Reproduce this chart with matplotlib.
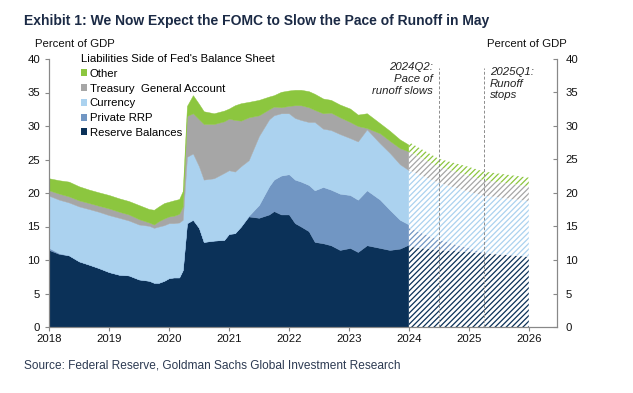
import numpy as np
import matplotlib.pyplot as plt
from matplotlib.patches import Patch

plt.rcParams['font.family'] = ['Liberation Sans', 'DejaVu Sans']
plt.rcParams['hatch.linewidth'] = 0.9

# history, % of GDP (layer thicknesses)
hist_t = [2018.00, 2018.17, 2018.33, 2018.50, 2018.67, 2018.83, 2019.00, 2019.17,
          2019.33, 2019.50, 2019.67, 2019.75, 2019.83, 2019.92, 2020.00, 2020.08,
          2020.17, 2020.23, 2020.30, 2020.40, 2020.50, 2020.58, 2020.75, 2020.92,
          2021.00, 2021.10, 2021.20, 2021.33, 2021.50, 2021.67, 2021.75, 2021.87,
          2022.00, 2022.10, 2022.20, 2022.33, 2022.43, 2022.57, 2022.70, 2022.85,
          2023.02, 2023.15, 2023.30, 2023.52, 2023.68, 2023.85, 2024.00]
reserves = [11.5, 10.9, 10.7, 9.8, 9.3, 8.8, 8.2, 7.8, 7.7, 7.1, 6.9, 6.6, 6.6, 6.9,
            7.3, 7.4, 7.4, 8.5, 15.5, 16.0, 14.8, 12.7, 12.9, 13.0, 13.9, 14.0, 15.0,
            16.5, 16.3, 16.8, 17.3, 16.8, 16.8, 15.5, 15.0, 14.3, 12.7, 12.5, 12.2,
            11.5, 11.8, 11.2, 12.2, 11.8, 11.5, 11.7, 12.3]
rrp = [0.3, 0.1, 0, 0, 0, 0, 0, 0, 0, 0, 0, 0, 0, 0, 0, 0, 0, 0, 0, 0, 0, 0, 0, 0,
       0, 0, 0, 0.1, 1.9, 4.2, 4.7, 5.8, 6.0, 6.5, 6.7, 6.9, 7.7, 8.4, 8.3, 8.4,
       7.9, 7.8, 8.2, 7.2, 6.0, 4.3, 3.0]
currency = [7.8, 8.0, 7.9, 8.2, 8.3, 8.4, 8.5, 8.5, 8.2, 8.2, 8.2, 8.2, 8.4, 8.3,
            8.2, 8.1, 8.2, 7.5, 9.9, 9.9, 9.2, 9.3, 9.3, 10.0, 9.5, 9.2, 9.0, 8.3,
            10.3, 10.0, 9.6, 9.3, 9.1, 9.2, 9.2, 9.4, 10.2, 8.7, 8.9, 8.9, 8.5, 8.7,
            9.1, 8.4, 8.5, 8.3, 8.1]
tga = [0.8, 0.9, 0.9, 0.9, 0.9, 0.9, 1.0, 0.9, 0.9, 0.8, 0.5, 0.5, 0.8, 1.0, 1.0,
       1.1, 1.3, 2.0, 6.1, 6.0, 7.0, 8.3, 8.1, 7.7, 7.7, 7.7, 6.8, 6.4, 3.1, 1.5,
       1.3, 0.9, 1.1, 1.9, 2.2, 2.2, 1.8, 2.3, 2.6, 2.5, 2.4, 2.3, 0.2, 1.5, 1.8,
       2.4, 2.8]
other = [1.8, 2.0, 2.2, 2.1, 2.0, 2.0, 2.0, 2.0, 2.0, 2.1, 2.0, 2.2, 2.2, 2.3, 2.2,
         2.3, 2.2, 2.3, 1.5, 2.7, 2.3, 1.9, 1.6, 1.6, 1.5, 2.2, 2.6, 2.3, 2.3, 1.9,
         1.7, 2.3, 2.3, 2.3, 2.3, 2.4, 2.4, 2.2, 1.9, 1.9, 2.0, 1.7, 2.2, 1.5, 1.5,
         1.3, 1.0]

# GS projection
fcst_t = [2024.00, 2024.50, 2025.00, 2025.25, 2026.00]
reserves_f = [12.0, 11.5, 11.2, 11.0, 10.5]
rrp_f = [2.8, 1.5, 0.6, 0.1, 0.0]
currency_f = [8.6, 8.5, 8.4, 8.5, 8.3]
tga_f = [2.8, 2.4, 2.4, 2.3, 2.2]
other_f = [1.4, 1.2, 1.3, 1.3, 1.3]

labels = ['Reserve Balances', 'Private RRP', 'Currency', 'Treasury  General Account', 'Other']
colors = ['#0b3158', '#7196c3', '#abd2ef', '#a6a6a6', '#8cc63f']

event_x = [2024.5, 2025.25]
event_txt = ['2024Q2:\nPace of\nrunoff slows', '2025Q1:\nRunoff\nstops']

fig = plt.figure(figsize=(6.33, 3.93), dpi=100)
ax = fig.add_axes([49/633, 66/393, 508/633, 268/393])

hist = np.array([reserves, rrp, currency, tga, other])
fc = np.array([reserves_f, rrp_f, currency_f, tga_f, other_f])
hcum = np.vstack([np.zeros(len(hist_t)), np.cumsum(hist, axis=0)])
fcum = np.vstack([np.zeros(len(fcst_t)), np.cumsum(fc, axis=0)])

for i, c in enumerate(colors):
    ax.fill_between(hist_t, hcum[i], hcum[i+1], facecolor=c, edgecolor=c, lw=0.3)
    ax.fill_between(fcst_t, fcum[i], fcum[i+1], facecolor='white', edgecolor=c,
                    hatch='//////', lw=0)

for x in event_x:
    ax.plot([x, x], [0, 38.7], color='#8c8c8c', lw=0.7, ls=(0, (3, 2)))
ax.text(event_x[0] - 0.1, 39.5, event_txt[0], ha='right', va='top', style='italic',
        fontsize=8.2, color='#222222', linespacing=1.2)
ax.text(event_x[1] + 0.1, 38.8, event_txt[1], ha='left', va='top', style='italic',
        fontsize=8.2, color='#222222', linespacing=1.2)

ax.set_xlim(2018, 2026.47)
ax.set_ylim(0, 40)
ax.set_xticks(range(2018, 2027))
ax.set_yticks(range(0, 41, 5))

ax2 = ax.twinx()
ax2.set_ylim(0, 40)
ax2.set_yticks(range(0, 41, 5))

for a in (ax, ax2):
    for s in a.spines.values():
        s.set_color('#888888')
        s.set_linewidth(0.8)
    a.spines['top'].set_visible(False)
ax.tick_params(axis='both', colors='#888888', labelcolor='#111111', labelsize=8.2,
               length=3, width=0.8)
ax.tick_params(axis='x', pad=2)
ax2.tick_params(axis='y', direction='in', colors='#888888', labelcolor='#111111',
                labelsize=8.2, length=3, width=0.8, pad=6)

fig.text(35/633, 1 - 44/393, 'Percent of GDP', fontsize=8.2, va='center', color='#111111')
fig.text(487/633, 1 - 44/393, 'Percent of GDP', fontsize=8.2, va='center', color='#111111')

handles = [Patch(facecolor=c, edgecolor='none') for c in colors][::-1]
leg = ax.legend(handles, labels[::-1], title="Liabilities Side of Fed's Balance Sheet",
                loc='upper left', bbox_to_anchor=(0.052, 1.04), frameon=False,
                fontsize=8.2, title_fontsize=8.2, handlelength=0.55, handleheight=0.55,
                handletextpad=0.2, labelspacing=0.42, borderpad=0, alignment='left')

fig.text(24/633, 1 - 21/393, 'Exhibit 1: We Now Expect the FOMC to Slow the Pace of Runoff in May',
         fontsize=10, fontweight='bold', va='center', color='#1b2a45')
fig.text(24/633, 1 - 365/393, 'Source: Federal Reserve, Goldman Sachs Global Investment Research',
         fontsize=8.6, va='center', color='#2c3a52')

fig.savefig('out.png', dpi=100, facecolor='white')
